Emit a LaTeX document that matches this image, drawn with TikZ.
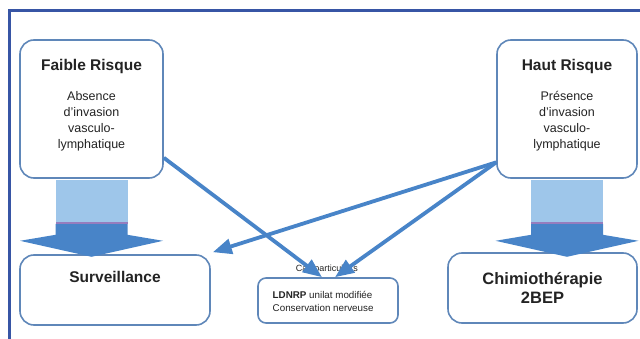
\documentclass[tikz,border=0pt]{standalone}
\usepackage{fontspec}
\setmainfont{Liberation Sans}
\usetikzlibrary{arrows.meta,calc}
\definecolor{cadrebleu}{RGB}{55,85,165}
\definecolor{bordbleu}{RGB}{95,135,185}
\definecolor{flechebleu}{RGB}{72,132,200}
\definecolor{clairbleu}{RGB}{158,198,234}
\definecolor{violet}{RGB}{150,125,190}
\definecolor{texte}{RGB}{35,35,35}
\tikzset{
  boite/.style={draw=bordbleu, line width=1.6pt, rounded corners=14pt, fill=white, inner sep=0pt},
  titre/.style={font=\fontsize{15.5}{19}\selectfont\bfseries, text=texte, align=center},
  corps/.style={font=\fontsize{12.5}{16}\selectfont, text=texte, align=center},
  petit/.style={font=\fontsize{9.8}{13}\selectfont, text=texte, align=left},
  fleche/.style={draw=flechebleu, line width=3.8pt, -{Triangle[length=19pt,width=15pt]}},
}
\begin{document}
\begin{tikzpicture}[x=1pt,y=-1pt]
	\useasboundingbox (0,0) rectangle (640,339);
	\draw[cadrebleu, line width=3pt] (9,339) -- (9,10.5) -- (640,10.5);
	% boites
	\node[boite, minimum width=143pt, minimum height=138pt] (faible) at (91.5,109) {};
	\node[boite, minimum width=140pt, minimum height=138pt] (haut) at (567,109) {};
	\node[boite, minimum width=190pt, minimum height=70pt] (surv) at (115,290) {};
	\node[boite, minimum width=189pt, minimum height=70pt, titre, font=\fontsize{16.5}{19}\selectfont\bfseries] (chimio) at (542.5,288) {Chimioth\'erapie\\2BEP};
	\node[boite, minimum width=140pt, minimum height=45pt, rounded corners=8pt] (cas) at (328,300.5) {};
	% textes
	\node[titre] (faibletitre) at ($(faible.north)+(0,27)$) {Faible Risque};
	\node[corps] (faiblecorps) at ($(faible.north)+(0,82)$) {Absence\\d'invasion\\vasculo-\\lymphatique};
	\node[titre] (hauttitre) at ($(haut.north)+(0,27)$) {Haut Risque};
	\node[corps] (hautcorps) at ($(haut.north)+(0,82)$) {Pr\'esence\\d'invasion\\vasculo-\\lymphatique};
	\node[titre] (survtitre) at ($(surv.north)+(0,23)$) {Surveillance};
	\node[petit, anchor=west] (castexte) at ($(cas.west)+(12,1)$) {\textbf{LDNRP} unilat modifi\'ee\\Conservation nerveuse};
	\node[petit, font=\fontsize{9}{11}\selectfont] (caslabel) at ($(cas.north)+(-1,-8)$) {Cas particuliers};
	% grosses fleches
	\foreach \n in {faible,haut} {
		\fill[flechebleu] ($(\n.south)+(-36,45)$) -- ($(\n.south)+(36,45)$) -- ($(\n.south)+(36,56)$)
			-- ($(\n.south)+(71.5,62)$) -- ($(\n.south)+(0,78)$) -- ($(\n.south)+(-71.5,62)$)
			-- ($(\n.south)+(-36,56)$) -- cycle;
		\fill[clairbleu] ($(\n.south)+(-36,1)$) rectangle ($(\n.south)+(36,43)$);
		\fill[violet] ($(\n.south)+(-36,43)$) rectangle ($(\n.south)+(36,45.5)$);
	}
	% fleches fines
	\draw[fleche] (faible.-34) -- ($(cas.north)+(-6,0)$);
	\draw[fleche] (haut.-143) -- ($(surv.north east)+(2,-2)$);
	\draw[fleche] (haut.-143) -- ($(cas.north)+(7,0)$);
\end{tikzpicture}
\end{document}
